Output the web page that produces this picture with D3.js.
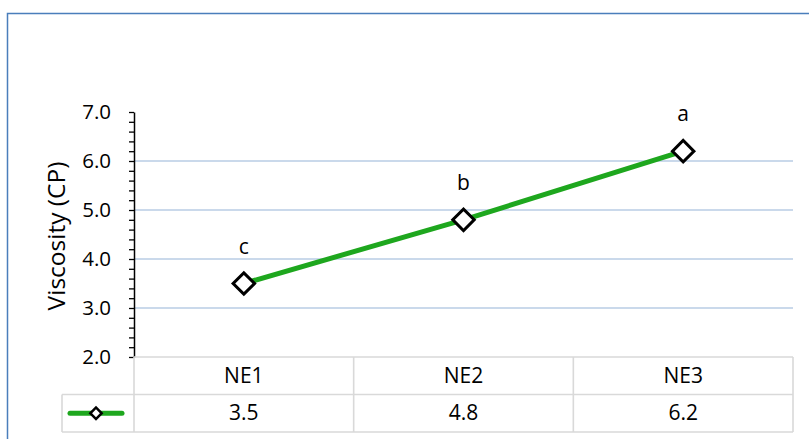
<!DOCTYPE html>
<html>
<head>
<meta charset="utf-8">
<script src="https://cdn.jsdelivr.net/npm/d3@7"></script>
<style>
  body { margin: 0; background: #fff; }
  svg { display: block; font-family: "Open Sans", sans-serif; }
</style>
</head>
<body>
<div id="chart"></div>
<script>
const categories = ['NE1', 'NE2', 'NE3'];
const viscosity = [3.5, 4.8, 6.2];
const letters = ['c', 'b', 'a'];
const yTicks = [2.0, 3.0, 4.0, 5.0, 6.0, 7.0];

const width = 809;
const height = 439;

const svg = d3.select('#chart')
  .append('svg')
  .attr('width', width)
  .attr('height', height);

// outer chart frame (right and bottom edges are cut off)
svg.append('rect')
  .attr('x', 7.5).attr('y', 13.5)
  .attr('width', width + 10).attr('height', height + 10)
  .attr('fill', 'none')
  .attr('stroke', '#4a7ebb')
  .attr('stroke-width', 1.5);

const usableArea = { left: 134, right: 793, top: 112, bottom: 357 };

const xScale = d3.scaleBand()
  .domain(categories)
  .range([usableArea.left, usableArea.right]);

const yScale = d3.scaleLinear()
  .domain([2, 7])
  .range([usableArea.bottom, usableArea.top]);

// gridlines
svg.append('g')
  .selectAll('line')
  .data(yTicks.filter(d => d > 2 && d < 7))
  .join('line')
  .attr('x1', usableArea.left).attr('x2', usableArea.right)
  .attr('y1', d => yScale(d)).attr('y2', d => yScale(d))
  .attr('stroke', '#b9cde5')
  .attr('stroke-width', 1.3);

// y axis with minor ticks
const minor = d3.range(2, 7.001, 0.2);
const yAxis = svg.append('g')
  .attr('transform', `translate(${usableArea.left},0)`)
  .call(d3.axisLeft(yScale).tickValues(minor).tickSize(5).tickFormat('').tickSizeOuter(0));
yAxis.select('.domain').attr('stroke', '#000').attr('stroke-width', 1.5);
yAxis.selectAll('.tick line').attr('stroke', '#000').attr('stroke-width', 1.3);

svg.append('g')
  .selectAll('text')
  .data(yTicks)
  .join('text')
  .attr('x', 111)
  .attr('y', d => yScale(d))
  .attr('dy', '0.36em')
  .attr('text-anchor', 'end')
  .attr('font-size', 20.5)
  .attr('fill', '#000')
  .text(d => d.toFixed(1));

svg.append('text')
  .attr('transform', `translate(65,236) rotate(-90)`)
  .attr('text-anchor', 'middle')
  .attr('font-size', 24.5)
  .attr('fill', '#000')
  .text('Viscosity (CP)');

// data table
const rowTop = 357, rowMid = 394.5, rowBot = 432;
const tbl = svg.append('g')
  .attr('stroke', '#d9d9d9')
  .attr('stroke-width', 1.6);
tbl.append('line').attr('x1', usableArea.left).attr('x2', usableArea.right).attr('y1', rowTop).attr('y2', rowTop);
tbl.append('line').attr('x1', 62).attr('x2', usableArea.right).attr('y1', rowMid).attr('y2', rowMid);
tbl.append('line').attr('x1', 62).attr('x2', usableArea.right).attr('y1', rowBot).attr('y2', rowBot);
tbl.append('line').attr('x1', 62).attr('x2', 62).attr('y1', rowMid).attr('y2', rowBot);
tbl.selectAll('.col')
  .data([...categories.map(c => xScale(c)), usableArea.right])
  .join('line')
  .attr('x1', d => d).attr('x2', d => d)
  .attr('y1', rowTop).attr('y2', rowBot);

svg.append('g')
  .selectAll('text')
  .data(categories)
  .join('text')
  .attr('x', d => xScale(d) + xScale.bandwidth() / 2)
  .attr('y', 383)
  .attr('text-anchor', 'middle')
  .attr('font-size', 21)
  .text(d => d);

svg.append('g')
  .selectAll('text')
  .data(viscosity)
  .join('text')
  .attr('x', (d, i) => xScale(categories[i]) + xScale.bandwidth() / 2)
  .attr('y', 420)
  .attr('text-anchor', 'middle')
  .attr('font-size', 21)
  .text(d => d.toFixed(1));

const green = '#1ea71e';
const diamond = d3.symbol().type(d3.symbolSquare);

// legend key
const keyY = (rowMid + rowBot) / 2;
svg.append('line')
  .attr('x1', 70).attr('x2', 122).attr('y1', keyY).attr('y2', keyY)
  .attr('stroke', green).attr('stroke-width', 5).attr('stroke-linecap', 'round');
svg.append('path')
  .attr('d', diamond.size(64)())
  .attr('transform', `translate(96,${keyY}) rotate(45)`)
  .attr('fill', '#fff').attr('stroke', '#000').attr('stroke-width', 2.5);

// series line
const cx = (d, i) => xScale(categories[i]) + xScale.bandwidth() / 2;
const line = d3.line().x(cx).y(d => yScale(d));
svg.append('path')
  .datum(viscosity)
  .attr('d', line)
  .attr('fill', 'none')
  .attr('stroke', green)
  .attr('stroke-width', 5);

svg.append('g')
  .selectAll('path')
  .data(viscosity)
  .join('path')
  .attr('d', diamond.size(230)())
  .attr('transform', (d, i) => `translate(${cx(d, i)},${yScale(d)}) rotate(45)`)
  .attr('fill', '#fff')
  .attr('stroke', '#000')
  .attr('stroke-width', 3);

svg.append('g')
  .selectAll('text')
  .data(viscosity)
  .join('text')
  .attr('x', cx)
  .attr('y', d => yScale(d) - 30)
  .attr('text-anchor', 'middle')
  .attr('font-size', 21)
  .text((d, i) => letters[i]);
</script>
</body>
</html>
